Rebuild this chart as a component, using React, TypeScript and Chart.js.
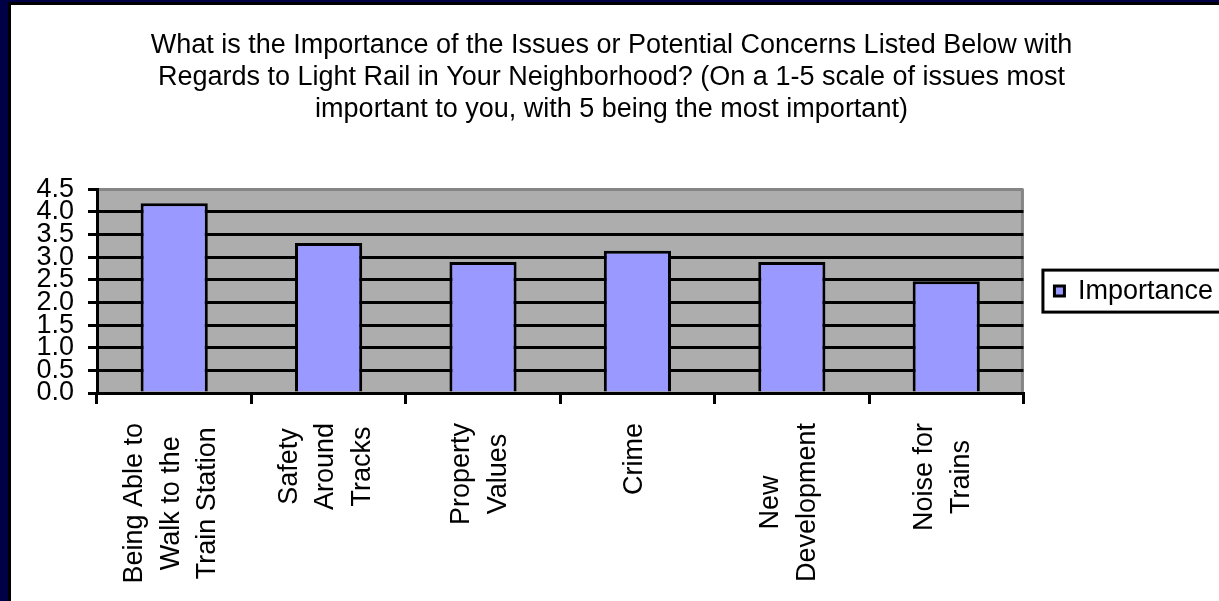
import React, { useEffect, useRef } from "react";
import { Chart, registerables } from "chart.js";

Chart.register(...registerables);

const titleLines = [
  "What is the Importance of the Issues or Potential Concerns Listed Below with",
  "Regards to Light Rail in Your Neighborhood? (On a 1-5 scale of issues most",
  "important to you, with 5 being the most important)",
];
const categories: string[][] = [
  ["Being Able to", "Walk to the", "Train Station"],
  ["Safety", "Around", "Tracks"],
  ["Property", "Values"],
  ["Crime"],
  ["New", "Development"],
  ["Noise for", "Trains"],
];
const seriesName = "Importance";
const importance = [4.19, 3.31, 2.89, 3.14, 2.89, 2.47];
const yMin = 0;
const yMax = 4.5;
const yStep = 0.5;

const FONT = "'Liberation Sans', Arial, sans-serif";
const FS = 27;

const framePlugin = {
  id: "frame",
  beforeDraw(chart: any) {
    const { ctx, width, height, chartArea } = chart;
    ctx.save();
    ctx.fillStyle = "#ffffff";
    ctx.fillRect(0, 0, width, height);
    ctx.fillStyle = "#000046";
    ctx.fillRect(0, 0, 8, height);
    ctx.fillRect(0, 0, width, 2);
    ctx.fillStyle = "#000000";
    ctx.fillRect(8, 2, 3, height);
    ctx.fillRect(8, 2, width, 3);
    ctx.fillStyle = "#adadad";
    ctx.fillRect(chartArea.left, chartArea.top, chartArea.right - chartArea.left, chartArea.bottom - chartArea.top);
    ctx.strokeStyle = "#858585";
    ctx.lineWidth = 3;
    ctx.beginPath();
    ctx.moveTo(chartArea.right - 1, chartArea.top);
    ctx.lineTo(chartArea.right - 1, chartArea.bottom);
    ctx.stroke();
    ctx.restore();
  },
  afterDraw(chart: any) {
    const { ctx } = chart;
    const xScale = chart.scales.x;
    ctx.save();
    ctx.font = FS + "px " + FONT;
    ctx.fillStyle = "#000000";
    ctx.textAlign = "center";
    ctx.textBaseline = "middle";
    const labels = chart.data.labels as string[][];
    labels.forEach((lines, i) => {
      const x = xScale.getPixelForValue(i);
      const maxW = Math.max(...lines.map((l) => ctx.measureText(l).width));
      const cy = xScale.top + 30 + maxW / 2;
      const n = lines.length;
      lines.forEach((line, k) => {
        const off = (k - (n - 1) / 2) * 36.5 - 3;
        ctx.save();
        ctx.translate(x + off, cy);
        ctx.rotate(-Math.PI / 2);
        ctx.fillText(line, 0, 0);
        ctx.restore();
      });
    });
    const legend = chart.legend;
    if (legend && legend.legendHitBoxes && legend.legendHitBoxes.length) {
      const hb = legend.legendHitBoxes[0];
      const cyL = hb.top + hb.height / 2;
      ctx.strokeStyle = "#000000";
      ctx.lineWidth = 3;
      ctx.strokeRect(hb.left - 11.5, cyL - 21, chart.width + 20 - (hb.left - 11.5), 42);
    }
    ctx.restore();
  },
};

export default function App() {
  const ref = useRef<HTMLCanvasElement>(null);
  useEffect(() => {
    document.body.style.margin = "0";
    document.body.style.overflow = "hidden";
    Chart.defaults.font.family = FONT;
    Chart.defaults.color = "#000000";
    const chart = new Chart(ref.current as HTMLCanvasElement, {
      type: "bar",
      data: {
        labels: categories as any,
        datasets: [
          {
            label: seriesName,
            data: importance,
            backgroundColor: "#9999ff",
            borderColor: "#000000",
            borderWidth: 3,
            categoryPercentage: 1,
            barPercentage: 0.435,
          },
        ],
      },
      plugins: [framePlugin],
      options: {
        animation: false,
        responsive: false,
        devicePixelRatio: 1,
        events: [],
        layout: { padding: { left: 0, right: -4, top: 0, bottom: 0 } },
        plugins: {
          title: {
            display: true,
            text: titleLines,
            color: "#000000",
            font: { size: FS, weight: "normal", family: FONT, lineHeight: 1.2 },
            padding: { top: 29, bottom: 63 },
          },
          legend: {
            display: true,
            position: "right",
            fullSize: false,
            labels: {
              boxWidth: 10,
              boxHeight: 10,
              padding: 31,
              color: "#000000",
              font: { size: FS, family: FONT },
              generateLabels: () => [
                {
                  text: seriesName,
                  fillStyle: "#9999ff",
                  strokeStyle: "#000000",
                  lineWidth: 3,
                  datasetIndex: 0,
                  hidden: false,
                },
              ],
            },
          },
          tooltip: { enabled: false },
        },
        scales: {
          x: {
            grid: {
              offset: true,
              drawOnChartArea: false,
              drawTicks: true,
              tickLength: 11,
              tickColor: "#000000",
              lineWidth: 3,
              color: "#000000",
            },
            border: { display: true, color: "#000000", width: 3 },
            ticks: { display: false },
            afterFit: (s: any) => {
              s.height = 208;
            },
          },
          y: {
            min: yMin,
            max: yMax,
            grid: {
              color: (ctx: any) => (ctx.tick && ctx.tick.value === yMax ? "#858585" : "#000000"),
              tickColor: "#000000",
              lineWidth: 3,
              tickLength: 9,
            },
            border: { display: true, color: "#000000", width: 3 },
            ticks: {
              stepSize: yStep,
              autoSkip: false,
              padding: 14,
              color: "#000000",
              font: { size: FS, family: FONT, lineHeight: 1 },
              callback: (v: any) => Number(v).toFixed(1),
            },
            afterFit: (s: any) => {
              s.width = 97;
            },
          },
        },
      },
    });
    return () => chart.destroy();
  }, []);
  return (
    <div style={{ width: 1219, height: 601, position: "relative", overflow: "hidden" }}>
      <canvas ref={ref} width={1219} height={601} style={{ display: "block", width: 1219, height: 601 }} />
    </div>
  );
}
